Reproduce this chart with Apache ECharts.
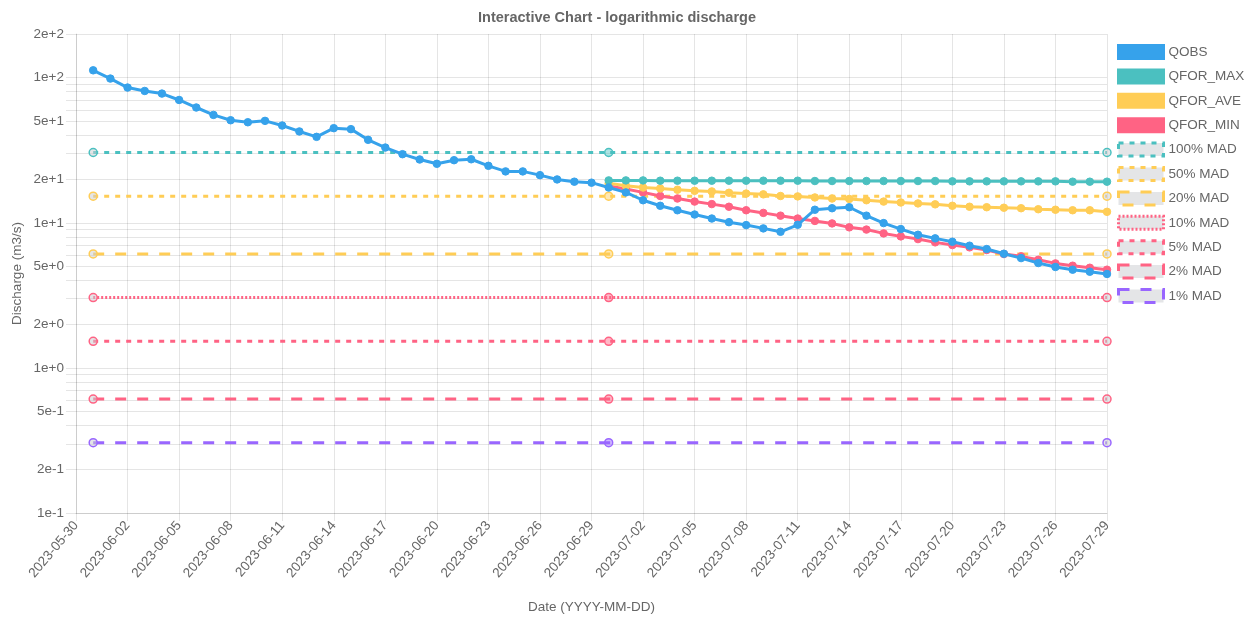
<!DOCTYPE html>
<html>
<head>
<meta charset="utf-8">
<title>Interactive Chart - logarithmic discharge</title>
<script src="https://cdn.jsdelivr.net/npm/echarts@6/dist/echarts.min.js"></script>
<style>
  html, body { margin: 0; padding: 0; background: #ffffff; }
  #chart { width: 1255px; height: 619px; }
</style>
</head>
<body>
<div id="chart"></div>
<script>
// Daily dates on the x axis
const dates = [
  '2023-05-30', '2023-05-31',
  '2023-06-01', '2023-06-02', '2023-06-03', '2023-06-04', '2023-06-05', '2023-06-06', '2023-06-07', '2023-06-08',
  '2023-06-09', '2023-06-10', '2023-06-11', '2023-06-12', '2023-06-13', '2023-06-14', '2023-06-15', '2023-06-16',
  '2023-06-17', '2023-06-18', '2023-06-19', '2023-06-20', '2023-06-21', '2023-06-22', '2023-06-23', '2023-06-24',
  '2023-06-25', '2023-06-26', '2023-06-27', '2023-06-28', '2023-06-29', '2023-06-30',
  '2023-07-01', '2023-07-02', '2023-07-03', '2023-07-04', '2023-07-05', '2023-07-06', '2023-07-07', '2023-07-08',
  '2023-07-09', '2023-07-10', '2023-07-11', '2023-07-12', '2023-07-13', '2023-07-14', '2023-07-15', '2023-07-16',
  '2023-07-17', '2023-07-18', '2023-07-19', '2023-07-20', '2023-07-21', '2023-07-22', '2023-07-23', '2023-07-24',
  '2023-07-25', '2023-07-26', '2023-07-27', '2023-07-28', '2023-07-29'
];

// Observed discharge (m3/s); no observation on the first date
const qobs = [
  null, 112.4, 98.6, 85.5, 81.0, 77.7, 70.2, 62.3, 55.4, 50.9, 49.3, 50.4, 46.8, 42.6, 39.1, 44.9,
  44.2, 37.3, 33.0, 29.7, 27.3, 25.5, 27.0, 27.4, 24.7, 22.6, 22.6, 21.3, 19.9, 19.2, 18.9, 17.5,
  16.2, 14.3, 13.1, 12.2, 11.4, 10.7, 10.1, 9.64, 9.15, 8.67, 9.69, 12.3, 12.6, 12.8, 11.2,
  9.95, 9.05, 8.27, 7.81, 7.40, 6.95, 6.59, 6.12, 5.71, 5.28, 4.96, 4.75, 4.60, 4.44
];

// Forecast period starts on 2023-06-30
const forecastStart = '2023-06-30';
const qforMax = [
  19.6, 19.6, 19.6, 19.5, 19.5, 19.5, 19.5, 19.5, 19.5, 19.5, 19.5, 19.5, 19.4, 19.4, 19.4,
  19.4, 19.4, 19.4, 19.4, 19.4, 19.3, 19.3, 19.3, 19.3, 19.3, 19.3, 19.3, 19.2, 19.2, 19.2
];
const qforAve = [
  18.7, 18.0, 17.5, 17.25, 16.9, 16.6, 16.45, 16.1, 15.9, 15.7, 15.3, 15.2, 14.95, 14.7, 14.6,
  14.3, 14.0, 13.8, 13.6, 13.4, 13.1, 12.9, 12.8, 12.7, 12.6, 12.4, 12.3, 12.2, 12.2, 11.9
];
const qforMin = [
  17.9, 17.1, 16.2, 15.3, 14.7, 14.0, 13.45, 12.9, 12.2, 11.7, 11.2, 10.7, 10.3, 9.9, 9.3,
  8.98, 8.45, 8.06, 7.72, 7.33, 7.02, 6.77, 6.49, 6.09, 5.87, 5.56, 5.25, 5.06, 4.90, 4.75
];

// Mean annual discharge reference levels
const madDates = ['2023-05-31', '2023-06-30', '2023-07-29'];
const madNames = ['100% MAD', '50% MAD', '20% MAD', '10% MAD', '5% MAD', '2% MAD', '1% MAD'];
const madValues = [30.5, 15.25, 6.1, 3.05, 1.525, 0.61, 0.305];

// Log axis: labelled values and grid values
const yLabelValues = [0.1, 0.2, 0.5, 1, 2, 5, 10, 20, 50, 100, 200];
const yGridValues = [
  0.1, 0.2, 0.3, 0.4, 0.5, 0.6, 0.7, 0.8, 0.9,
  1, 2, 3, 4, 5, 6, 7, 8, 9,
  10, 20, 30, 40, 50, 60, 70, 80, 90,
  100, 200
];

const BLUE = 'rgb(54,162,235)';
const TEAL = 'rgb(75,192,192)';
const YELLOW = 'rgb(255,205,86)';
const RED = 'rgb(255,99,132)';
const PURPLE = 'rgb(153,102,255)';
const GREYFILL = 'rgba(201,203,207,0.5)';
const GRID = 'rgba(0,0,0,0.1)';
const TEXT = '#666666';
const FONT = '"Liberation Sans", Arial, Helvetica, sans-serif';
const FS = 13.5;

const madStyles = [
  { color: TEAL,   dash: [5, 6] },
  { color: YELLOW, dash: [5, 6] },
  { color: YELLOW, dash: [11, 11] },
  { color: RED,    dash: [2, 2] },
  { color: RED,    dash: [5, 6] },
  { color: RED,    dash: [11, 11] },
  { color: PURPLE, dash: [11, 11] }
];

const forecastIndex = dates.indexOf(forecastStart);
const forecastPairs = arr => arr.map((v, i) => [dates[forecastIndex + i], v]);

function dataLine(name, color, data, z) {
  return {
    name, type: 'line', data, z,
    symbol: 'circle', symbolSize: 7.5, showSymbol: true,
    lineStyle: { color, width: 3 },
    itemStyle: { color, borderColor: color, borderWidth: 1 },
    emphasis: { disabled: true },
    animation: false
  };
}

const series = [
  dataLine('QOBS', BLUE, qobs, 6),
  dataLine('QFOR_MAX', TEAL, forecastPairs(qforMax), 5),
  dataLine('QFOR_AVE', YELLOW, forecastPairs(qforAve), 4),
  dataLine('QFOR_MIN', RED, forecastPairs(qforMin), 3)
];

madNames.forEach((name, k) => {
  const st = madStyles[k];
  series.push({
    name, type: 'line', z: 2,
    data: madDates.map((d, i) => ({
      value: [d, madValues[k]],
      itemStyle: i === 1 ? { color: st.color.replace('rgb', 'rgba').replace(')', ',0.45)') } : undefined
    })),
    symbol: 'circle', symbolSize: 8, showSymbol: true,
    lineStyle: { color: st.color, width: 3, type: st.dash },
    itemStyle: { color: GREYFILL, borderColor: st.color, borderWidth: 1.5 },
    emphasis: { disabled: true },
    animation: false
  });
});

const legendData = [
  { name: 'QOBS', color: BLUE },
  { name: 'QFOR_MAX', color: TEAL },
  { name: 'QFOR_AVE', color: YELLOW },
  { name: 'QFOR_MIN', color: RED }
].map(d => ({
  name: d.name, icon: 'rect',
  itemStyle: { color: d.color, borderColor: d.color, borderWidth: 3, borderType: 'solid' }
})).concat(madNames.map((name, k) => ({
  name, icon: 'rect',
  itemStyle: { color: GREYFILL, borderColor: madStyles[k].color, borderWidth: 3, borderType: madStyles[k].dash }
})));

const chart = echarts.init(document.getElementById('chart'), null, { renderer: 'canvas' });
chart.setOption({
  animation: false,
  backgroundColor: '#ffffff',
  textStyle: { fontFamily: FONT },
  title: {
    text: 'Interactive Chart - logarithmic discharge',
    left: 473, top: 5,
    textStyle: { color: TEXT, fontSize: 14.5, fontWeight: 'bold', fontFamily: FONT }
  },
  legend: {
    orient: 'vertical', left: 1117, top: 44, padding: 0,
    itemWidth: 45, itemHeight: 13, itemGap: 8.4,
    data: legendData,
    selectedMode: false,
    textStyle: { color: TEXT, fontSize: FS, fontFamily: FONT }
  },
  grid: { left: 76, right: 148, top: 34, bottom: 105, containLabel: false },
  xAxis: {
    type: 'category', data: dates, boundaryGap: false,
    name: 'Date (YYYY-MM-DD)', nameLocation: 'middle', nameGap: 87,
    nameTextStyle: { color: TEXT, fontSize: FS, fontFamily: FONT },
    axisLine: { show: true, lineStyle: { color: GRID, width: 1 } },
    axisTick: { show: true, interval: 2, length: 8, lineStyle: { color: GRID } },
    axisLabel: { interval: 2, rotate: 50, margin: 10, color: TEXT, fontSize: FS, fontFamily: FONT },
    splitLine: { show: true, interval: 2, lineStyle: { color: GRID, width: 1 } }
  },
  yAxis: {
    type: 'log', logBase: 10, min: 0.1, max: 200,
    name: 'Discharge (m3/s)', nameLocation: 'middle', nameGap: 52, nameMoveOverlap: false,
    nameTextStyle: { color: TEXT, fontSize: FS, fontFamily: FONT },
    axisLine: { show: true, lineStyle: { color: GRID, width: 1 } },
    axisTick: { show: true, length: 10, customValues: yGridValues, lineStyle: { color: GRID } },
    axisLabel: {
      customValues: yLabelValues, margin: 12, color: TEXT, fontSize: FS, fontFamily: FONT,
      formatter: v => Number(v).toExponential(0)
    },
    splitLine: { show: true, lineStyle: { color: GRID, width: 1 } }
  },
  series
});
</script>
</body>
</html>
